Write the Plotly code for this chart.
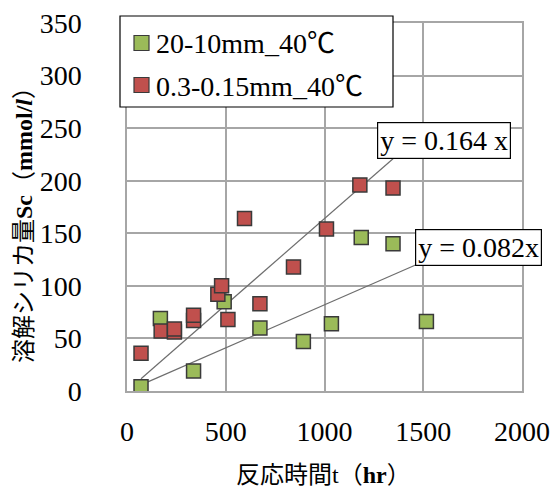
import plotly.graph_objects as go

# Dissolved silica vs. reaction time, two particle-size fractions at 40°C
SERIF = "Liberation Serif"
CJK = "Noto Sans CJK JP"

green_name = "20-10mm_40℃"
green_t = [71, 169, 337, 492, 673, 893, 1035, 1186, 1347, 1516]
green_sc = [4, 69, 19, 85, 60, 47, 64, 146, 140, 66]

red_name = "0.3-0.15mm_40℃"
red_t = [71, 173, 240, 240, 337, 337, 460, 479, 511, 595, 673, 843, 1010, 1179, 1347]
red_sc = [36, 57, 56, 59, 67, 72, 92, 100, 68, 164, 83, 118, 154, 196, 193]

# Zero-intercept linear fits
green_slope = 0.082
red_slope = 0.164
green_label = "y = 0.082x"
red_label = "y = 0.164 x"

x_ticks = [0, 500, 1000, 1500, 2000]
y_ticks = [0, 50, 100, 150, 200, 250, 300, 350]

x_title = "反応時間t（<b>hr</b>）"
y_title = "溶解シリカ量<b>Sc</b>（<b>mmol/<i>l</i></b>）"

GREEN = "#9BBB59"
RED = "#C0504D"
EDGE = "#3A3A3A"
GRID = "#A6A6A6"

# Plot-area geometry in pixels (used to place the key box in paper units)
W, H = 555, 490
L, R, T, B = 127, 33, 23, 99
PW, PH = W - L - R, H - T - B


def px(x):
    return (x - L) / PW


def py(y):
    return (H - B - y) / PH


fig = go.Figure()

# Trendlines span the data range of each series
for t, slope in ((green_t, green_slope), (red_t, red_slope)):
    xs = [min(t), max(t)]
    fig.add_trace(go.Scatter(
        x=xs, y=[slope * v for v in xs], mode="lines",
        line=dict(color="#6E6E6E", width=1.2), showlegend=False, hoverinfo="skip",
    ))

fig.add_trace(go.Scatter(
    x=green_t, y=green_sc, mode="markers", name=green_name, showlegend=False,
    marker=dict(symbol="square", size=14, color=GREEN, line=dict(color=EDGE, width=1.5)),
))
fig.add_trace(go.Scatter(
    x=red_t, y=red_sc, mode="markers", name=red_name, showlegend=False,
    marker=dict(symbol="square", size=14, color=RED, line=dict(color=EDGE, width=1.5)),
))

# Equation labels
for text, x, y in ((red_label, 1264, 256), (green_label, 1458, 154)):
    fig.add_annotation(
        x=x, y=y, xref="x", yref="y", text=text, showarrow=False,
        xanchor="left", yanchor="top", align="left",
        font=dict(family=SERIF, size=28, color="black"),
        bgcolor="white", bordercolor="black", borderwidth=1.2, borderpad=2,
    )

# Key box with series swatches and names
fig.add_shape(
    type="rect", xref="paper", yref="paper", layer="above",
    x0=px(120), x1=px(393), y0=py(107), y1=py(16),
    line=dict(color="black", width=1.2), fillcolor="white",
)
for name, color, row_y in ((green_name, GREEN, 43), (red_name, RED, 85)):
    fig.add_shape(
        type="rect", xref="paper", yref="paper", layer="above",
        x0=px(134), x1=px(149), y0=py(row_y + 7.5), y1=py(row_y - 7.5),
        line=dict(color=EDGE, width=1.2), fillcolor=color,
    )
    fig.add_annotation(
        x=px(154), y=py(row_y + 1), xref="paper", yref="paper", text=name,
        showarrow=False, xanchor="left", yanchor="middle",
        font=dict(family=f"{SERIF}, {CJK}", size=28, color="black"),
    )

# Axis titles
title_font = dict(family=f"{SERIF}, {CJK}", size=24, color="black")
fig.add_annotation(
    x=px(323), y=py(475), xref="paper", yref="paper", text=x_title, showarrow=False,
    xanchor="center", yanchor="middle", font=title_font,
)
fig.add_annotation(
    x=px(24), y=py(219), xref="paper", yref="paper", text=y_title, showarrow=False,
    xanchor="center", yanchor="middle", textangle=-90, font=title_font,
)

fig.update_layout(
    width=W, height=H,
    margin=dict(l=L, r=R, t=T, b=B, autoexpand=False),
    paper_bgcolor="white", plot_bgcolor="white",
    font=dict(family=SERIF, size=28, color="black"),
    showlegend=False,
)

fig.update_xaxes(
    range=[0, 2000], tickvals=x_ticks, ticktext=[str(v) for v in x_ticks],
    showgrid=True, gridcolor=GRID, gridwidth=1.5,
    showline=True, linecolor=GRID, linewidth=1.5, mirror=True, zeroline=False,
    ticks="", ticklabelstandoff=15, automargin=False,
    tickfont=dict(family=SERIF, size=28, color="black"),
)
fig.update_yaxes(
    range=[0, 350], tickvals=y_ticks, ticktext=[str(v) for v in y_ticks],
    showgrid=True, gridcolor=GRID, gridwidth=1.5,
    showline=True, linecolor=GRID, linewidth=1.5, mirror=True, zeroline=False,
    ticks="", ticklabelstandoff=38, automargin=False,
    tickfont=dict(family=SERIF, size=28, color="black"),
)

fig.write_html("out.html")
